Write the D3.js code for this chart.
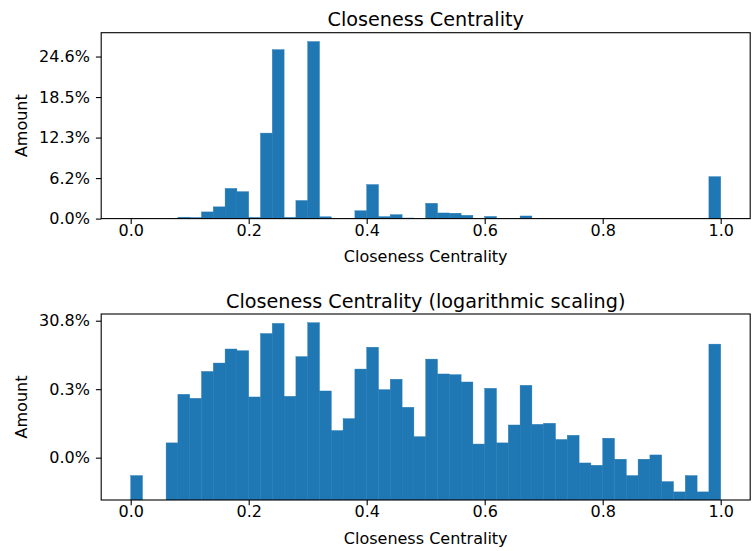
<!DOCTYPE html>
<html>
<head>
<meta charset="utf-8">
<script src="https://cdn.jsdelivr.net/npm/d3@7/dist/d3.min.js"></script>
<style>
  body { margin: 0; background: #fff; }
  svg { display: block; font-family: "DejaVu Sans", sans-serif; }
</style>
</head>
<body>
<svg id="chart" width="752" height="551"></svg>
<script>
// histogram bins: 50 bins of width 0.02 over [0, 1]
const BIN_EDGES = [
  0.00, 0.02, 0.04, 0.06, 0.08, 0.10, 0.12, 0.14, 0.16, 0.18,
  0.20, 0.22, 0.24, 0.26, 0.28, 0.30, 0.32, 0.34, 0.36, 0.38,
  0.40, 0.42, 0.44, 0.46, 0.48, 0.50, 0.52, 0.54, 0.56, 0.58,
  0.60, 0.62, 0.64, 0.66, 0.68, 0.70, 0.72, 0.74, 0.76, 0.78,
  0.80, 0.82, 0.84, 0.86, 0.88, 0.90, 0.92, 0.94, 0.96, 0.98, 1.00
];

// node count per bin
const COUNTS = [
  3, 0, 0, 27, 708, 541, 3300, 5800, 14900, 13300,
  592, 42200, 83400, 619, 8930, 87400, 886, 62, 138, 3870,
  16800, 969, 1950, 296, 41, 7550, 2780, 2656, 1622, 25,
  1060, 27, 90, 1297, 94, 101, 34, 45, 7, 6,
  37, 9, 3, 9, 12, 2, 1, 3, 1, 20700
];

const X_TICKS = [0, 0.2, 0.4, 0.6, 0.8, 1.0];
const LINEAR_Y_TICKS = [0, 20000, 40000, 60000, 80000];
const LOG_Y_TICKS = [10, 1000, 100000];
const TITLES = ['Closeness Centrality', 'Closeness Centrality (logarithmic scaling)'];
const X_LABEL = 'Closeness Centrality';
const Y_LABEL = 'Amount';

const BAR_COLOR = '#1f77b4';
const M = { left: 101.2, right: 750.2 };
const PANELS = [
  { top: 32.7, bottom: 218.6 },
  { top: 314, bottom: 500 },
];
const TICK_FS = 16, TITLE_FS = 19.2;

const total = d3.sum(COUNTS);
const pct = v => (v / total * 100).toFixed(1) + '%';

const svg = d3.select('#chart');

const x = d3.scaleLinear().domain([-0.05, 1.05]).range([M.left, M.right]);

const bins = COUNTS.map((c, i) => ({ x0: BIN_EDGES[i], x1: BIN_EDGES[i + 1], count: c }))
  .filter(b => b.count > 0);

function drawPanel(idx, y, yTicks) {
  const { top, bottom } = PANELS[idx];
  const g = svg.append('g');

  const clipId = 'clip' + idx;
  svg.append('clipPath').attr('id', clipId)
    .append('rect')
    .attr('x', M.left).attr('y', top)
    .attr('width', M.right - M.left).attr('height', bottom - top);

  // thin same-colour stroke hides the hairline seams between neighbouring bars
  g.append('g').attr('clip-path', `url(#${clipId})`)
    .selectAll('rect')
    .data(bins)
    .join('rect')
    .attr('x', b => x(b.x0))
    .attr('width', b => x(b.x1) - x(b.x0))
    .attr('y', b => y(b.count))
    .attr('height', b => bottom - y(b.count))
    .attr('fill', BAR_COLOR)
    .attr('stroke', BAR_COLOR)
    .attr('stroke-width', 0.4);

  // axes
  const xa = g.append('g')
    .attr('transform', `translate(0,${bottom})`)
    .call(d3.axisBottom(x).tickValues(X_TICKS).tickFormat(d3.format('.1f'))
      .tickSize(5.3).tickSizeOuter(0).tickPadding(0.8));
  const ya = g.append('g')
    .attr('transform', `translate(${M.left},0)`)
    .call(d3.axisLeft(y).tickValues(yTicks).tickFormat(pct)
      .tickSize(5.3).tickSizeOuter(0).tickPadding(6));

  [xa, ya].forEach(a => {
    a.select('.domain').remove();
    a.selectAll('line').attr('stroke', '#000').attr('stroke-width', 1.1);
    a.selectAll('text').attr('fill', '#000').attr('font-size', TICK_FS)
      .attr('font-family', '"DejaVu Sans", sans-serif');
  });

  // spines
  g.append('rect')
    .attr('x', M.left).attr('y', top)
    .attr('width', M.right - M.left).attr('height', bottom - top)
    .attr('fill', 'none').attr('stroke', '#000').attr('stroke-width', 1.1);

  const cx = (M.left + M.right) / 2;
  g.append('text')
    .attr('x', cx).attr('y', top - 6.5)
    .attr('text-anchor', 'middle').attr('font-size', TITLE_FS)
    .text(TITLES[idx]);

  g.append('text')
    .attr('x', cx).attr('y', bottom + 43.5)
    .attr('text-anchor', 'middle').attr('font-size', TICK_FS)
    .text(X_LABEL);

  g.append('text')
    .attr('transform', `translate(26.5,${(top + bottom) / 2}) rotate(-90)`)
    .attr('text-anchor', 'middle').attr('font-size', TICK_FS)
    .text(Y_LABEL);
}

const yLin = d3.scaleLinear()
  .domain([0, d3.max(COUNTS) * 1.05])
  .range([PANELS[0].bottom, PANELS[0].top]);
drawPanel(0, yLin, LINEAR_Y_TICKS);

const yLog = d3.scaleLog()
  .domain([0.58, 1.57e5])
  .range([PANELS[1].bottom, PANELS[1].top]);
drawPanel(1, yLog, LOG_Y_TICKS);
</script>
</body>
</html>
